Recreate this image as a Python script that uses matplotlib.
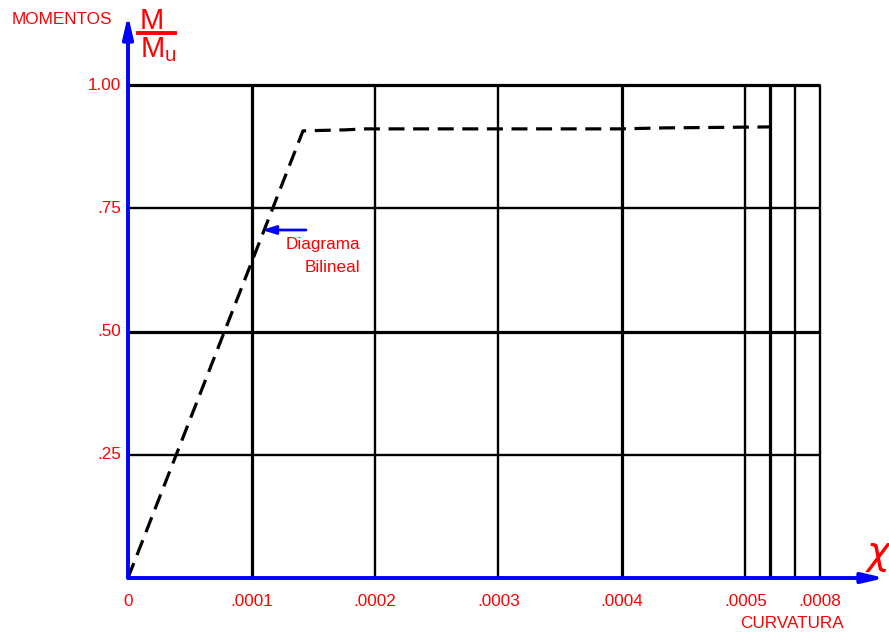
import numpy as np
import matplotlib.pyplot as plt

plt.rcParams['font.family'] = ['Liberation Sans', 'DejaVu Sans']

# curva bilineal (curvatura, M/Mu)
curv = [0.0, 0.0001417, 0.0001757, 0.0001919, 0.000253, 0.000398, 0.000435, 0.00052]
mom = [0.0, 0.907, 0.909, 0.911, 0.911, 0.911, 0.913, 0.915]

# rejilla
x_lines = [0.0001, 0.0002, 0.0003, 0.0004, 0.0005, 0.00052, 0.00054, 0.00056]
x_thick = [True, False, False, True, False, True, False, False]
y_lines = [0.25, 0.50, 0.75, 1.00]
y_thick = [False, True, False, True]

x_ticks = [0.0, 0.0001, 0.0002, 0.0003, 0.0004, 0.0005, 0.00056]
x_labels = ['0', '.0001', '.0002', '.0003', '.0004', '.0005', '.0008']
y_ticks = [0.25, 0.50, 0.75, 1.00]
y_labels = ['.25', '.50', '.75', '1.00']

W, H = 889, 635
fig = plt.figure(figsize=(W / 100, H / 100), dpi=100)
ax = fig.add_axes([128 / W, 57 / H, 761 / W, 578 / H])
xmax = 761 / 123.5 * 0.0001
ymax = 578 / 493.0
ax.set_xlim(0, xmax)
ax.set_ylim(0, ymax)
ax.axis('off')

x_end = x_lines[-1]
for x, t in zip(x_lines, x_thick):
    ax.plot([x, x], [0, 1.0], color='black', lw=2.3 if t else 1.7,
            solid_capstyle='butt', zorder=2)
for y, t in zip(y_lines, y_thick):
    ax.plot([0, x_end], [y, y], color='black', lw=2.3 if t else 1.7,
            solid_capstyle='butt', zorder=2)

ax.plot(curv, mom, color='black', lw=2.3, dashes=(5, 2.7), zorder=3)

# ejes azules con flecha
ax.annotate('', xy=(0, 563 / 493.0), xytext=(0, 0),
            arrowprops=dict(arrowstyle='-|>,head_length=1.3,head_width=0.3',
                            color='blue', lw=2.8, shrinkA=0, shrinkB=0),
            annotation_clip=False, zorder=4)
ax.annotate('', xy=(757 / 123.5 * 0.0001, 0), xytext=(0, 0),
            arrowprops=dict(arrowstyle='-|>,head_length=1.3,head_width=0.3',
                            color='blue', lw=2.8, shrinkA=0, shrinkB=0),
            annotation_clip=False, zorder=4)

fs = 12.3
for x, lab in zip(x_ticks, x_labels):
    ax.text(x, -24 / 493.0, lab, color='red', fontsize=fs,
            ha='center', va='center')
for y, lab in zip(y_ticks, y_labels):
    ax.text(-7 / 123.5 * 0.0001, y, lab, color='red', fontsize=fs,
            ha='right', va='center')

fig.text(12 / W, 1 - 20 / H, 'MOMENTOS', color='red', fontsize=fs,
         ha='left', va='center')
fig.text(152 / W, 1 - 21 / H, 'M', color='red', fontsize=21,
         ha='center', va='center')
fig.add_artist(plt.Line2D([138 / W, 175 / W], [1 - 33 / H, 1 - 33 / H],
                          color='red', lw=2.8))
fig.text(140 / W, 1 - 50 / H, r'M$_\mathregular{u}$', color='red', fontsize=21,
         ha='left', va='center')
fig.text(878 / W, 1 - 553 / H, 'χ', color='red', fontsize=28,
         family='DejaVu Sans', style='oblique', ha='center', va='center')
fig.text(792 / W, 1 - 624 / H, 'CURVATURA', color='red', fontsize=fs,
         ha='center', va='center')

ax.annotate('', xy=((262 - 128) / 123.5 * 0.0001, (578 - 230) / 493.0),
            xytext=((306 - 128) / 123.5 * 0.0001, (578 - 230) / 493.0),
            arrowprops=dict(arrowstyle='-|>,head_length=0.8,head_width=0.25',
                            color='blue', lw=2, shrinkA=0, shrinkB=0), zorder=5)
fig.text(360 / W, 1 - 256 / H, 'Diagrama\nBilineal', color='red', fontsize=fs,
         ha='right', va='center', multialignment='right', linespacing=1.6)

fig.savefig('out.png', dpi=100)
